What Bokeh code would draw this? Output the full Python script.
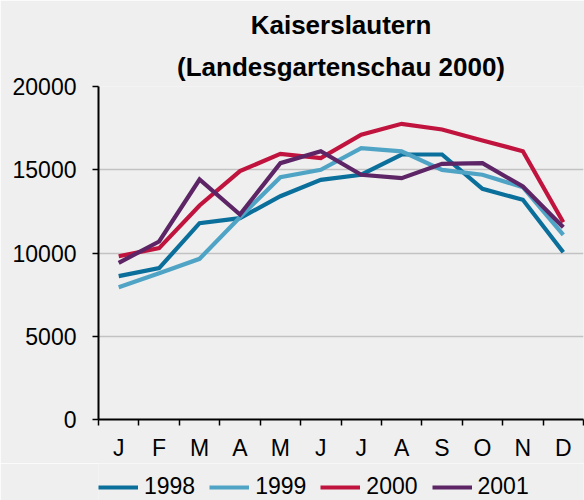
from bokeh.plotting import figure
from bokeh.layouts import column
from bokeh.models import (Range1d, FixedTicker, Title, Legend, LegendItem)
from bokeh.embed import file_html
from bokeh.resources import INLINE

months = ["J", "F", "M", "A", "M", "J", "J", "A", "S", "O", "N", "D"]
x_pos = list(range(1, 13))
y1998 = [8610, 9090, 11790, 12090, 13410, 14395, 14700, 15915, 15915, 13855, 13195, 10050]
y1999 = [7946, 8790, 9650, 12150, 14553, 14995, 16300, 16100, 14995, 14700, 13955, 11090]
y2000 = [9808, 10290, 12853, 14915, 15955, 15700, 17100, 17760, 17420, 16760, 16115, 11850]
y2001 = [9410, 10690, 14414, 12312, 15395, 16115, 14700, 14495, 15355, 15395, 13995, 11550]
series = [("1998", y1998, "#0b6f9c"), ("1999", y1999, "#4fa4c6"),
          ("2000", y2000, "#c0143e"), ("2001", y2001, "#5d2566")]
y_ticks = [0, 5000, 10000, 15000, 20000]

BG = "#eeefee"
FONT = "Liberation Sans"

p = figure(frame_width=485, frame_height=333, output_backend="svg", toolbar_location=None,
           x_range=Range1d(0.5, 12.5), y_range=Range1d(0, 20000),
           min_border_left=98, min_border_right=1, min_border_top=86, min_border_bottom=42,
           background_fill_color=BG, border_fill_color=BG, outline_line_color=None)

p.add_layout(Title(text="(Landesgartenschau 2000)", align="center", text_font=FONT,
                   text_font_size="26px", text_font_style="bold", text_color="#000000"),
             "above")
p.add_layout(Title(text="Kaiserslautern", align="center", text_font=FONT,
                   text_font_size="26px", text_font_style="bold", text_color="#000000"),
             "above")

for name, ys, col in series:
    p.line(x_pos, ys, line_color=col, line_width=4.2, line_join="miter")

# axes
p.xaxis.ticker = FixedTicker(ticks=x_pos, minor_ticks=[i + 0.5 for i in range(0, 13)])
p.xaxis.major_label_overrides = {i + 1: m for i, m in enumerate(months)}
p.xaxis.major_tick_in = 0
p.xaxis.major_tick_out = 0
p.xaxis.minor_tick_in = 0
p.xaxis.minor_tick_out = 6
p.xaxis.minor_tick_line_color = "black"
p.xaxis.minor_tick_line_width = 1.5
p.yaxis.ticker = FixedTicker(ticks=y_ticks)
p.yaxis.major_tick_in = 0
p.yaxis.major_tick_out = 6
p.yaxis.minor_tick_line_color = None
for ax in (p.xaxis, p.yaxis):
    ax.axis_line_width = 2
    ax.axis_line_color = "black"
    ax.major_tick_line_color = "black"
    ax.major_tick_line_width = 1.5
    ax.major_label_text_font = FONT
    ax.major_label_text_font_size = "23px"
    ax.major_label_text_color = "#000000"
p.xaxis.major_label_standoff = 9
p.yaxis.major_label_standoff = 16
p.yaxis.formatter.use_scientific = False

p.xgrid.grid_line_color = None
p.ygrid.ticker = FixedTicker(ticks=y_ticks)
p.ygrid.grid_line_color = "#c2c2c2"
p.ygrid.grid_line_width = 1.5

# legend strip below the chart (series drawn out of view, only for legend glyphs)
pl = figure(width=584, height=39, output_backend="svg", toolbar_location=None,
            x_range=Range1d(-2, -1), y_range=Range1d(-2, -1), min_border=0,
            background_fill_color=BG, border_fill_color=BG, outline_line_color=None)
pl.axis.visible = False
pl.grid.visible = False
items = []
for name, ys, col in series:
    r = pl.line(x_pos, ys, line_color=col, line_width=4.2)
    items.append(LegendItem(label=name, renderers=[r]))
legend = Legend(items=items, orientation="horizontal", location=(0, 2),
                glyph_width=40, glyph_height=20, label_standoff=6, spacing=14,
                padding=0, margin=0, border_line_color=None, background_fill_alpha=0,
                label_text_font=FONT, label_text_font_size="23px", label_text_color="#000000")
pl.add_layout(legend, "center")

layout = column(p, pl, spacing=0)
open("out.html", "w").write(file_html(layout, INLINE))
